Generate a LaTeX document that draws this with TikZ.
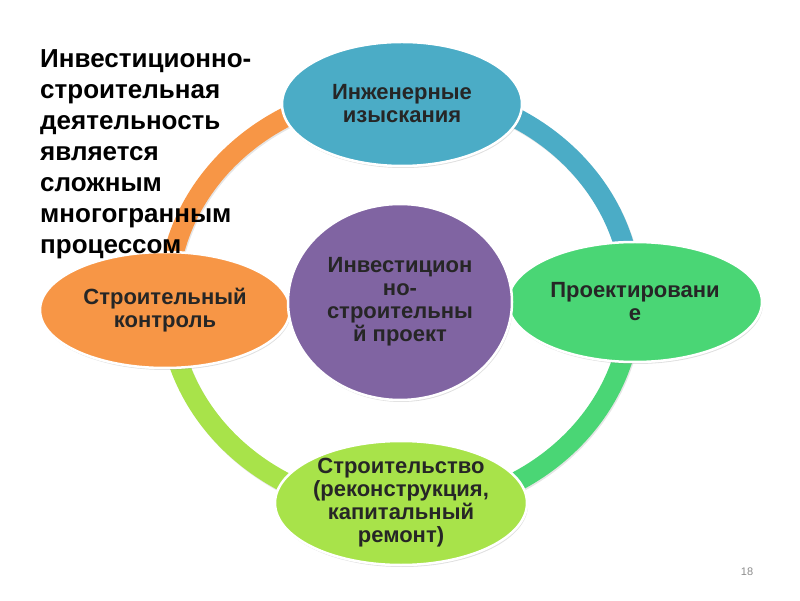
\documentclass[tikz,border=0pt]{standalone}
\usepackage{fontspec}
\setmainfont{Liberation Sans}
\usepackage{xcolor}
\usepackage{tikz}
\usetikzlibrary{positioning, shapes.geometric, shadows}
\definecolor{surveyblue}{HTML}{4BACC6}
\definecolor{controlorange}{HTML}{F79646}
\definecolor{projectpurple}{HTML}{8064A2}
\definecolor{designgreen}{HTML}{4AD675}
\definecolor{buildlime}{HTML}{A8E34A}
\tikzset{
  stage/.style={ellipse, draw=white, line width=2.5pt, inner sep=0pt, align=center,
    text=black!85, font=\bfseries\fontsize{22}{23}\selectfont,
    drop shadow={opacity=0.25, shadow xshift=1pt, shadow yshift=-2pt}},
  ringarc/.style={line width=20pt, draw=#1,
    preaction={draw=black, opacity=0.1, line width=20pt,
      transform canvas={shift={(1pt,-1.5pt)}}}}
}

\begin{document}
\begin{tikzpicture}[x=1pt, y=1pt]
    \useasboundingbox (0,0) rectangle (800,600);
    \coordinate (hub) at (400,300);
    % ring behind the stages
    \draw[ringarc=controlorange] ([shift={(180:232 and 210)}]hub)
      arc[start angle=180, end angle=90, x radius=232, y radius=210];
    \draw[ringarc=surveyblue] ([shift={(90:232 and 210)}]hub)
      arc[start angle=90, end angle=0, x radius=232, y radius=210];
    \draw[ringarc=designgreen] ([shift={(0:232 and 210)}]hub)
      arc[start angle=0, end angle=-90, x radius=232, y radius=210];
    \draw[ringarc=buildlime] ([shift={(-90:232 and 210)}]hub)
      arc[start angle=-90, end angle=-180, x radius=232, y radius=210];

    \node[stage, fill=surveyblue, minimum width=240pt, minimum height=124pt]
      (survey) at (402,496) {Инженерные\\изыскания};
    \node[stage, fill=designgreen, minimum width=254pt, minimum height=120pt]
      (design) at (635,298) {Проектировани\\е};
    \node[stage, fill=buildlime, minimum width=252pt, minimum height=124pt, inner ysep=-8pt]
      (build) at (401,97) {Строительство\\(реконструкция,\\капитальный\\ремонт)};
    \node[stage, fill=controlorange, minimum width=250pt, minimum height=116pt]
      (control) at (165,290) {Строительный\\контроль};
    \node[stage, fill=projectpurple, minimum width=224pt, minimum height=196pt]
      (project) at (400,298) {Инвестицион\\но-\\строительны\\й проект};

    \node[anchor=north west, align=left, inner sep=0pt,
          font=\bfseries\fontsize{26}{31}\selectfont]
      (claim) at (40,551) {Инвестиционно-\\строительная\\деятельность\\является\\сложным\\многогранным\\процессом};
    \node[text=black!45, font=\fontsize{11}{13}\selectfont] (pagenum) at (747,28) {18};
\end{tikzpicture}
\end{document}
